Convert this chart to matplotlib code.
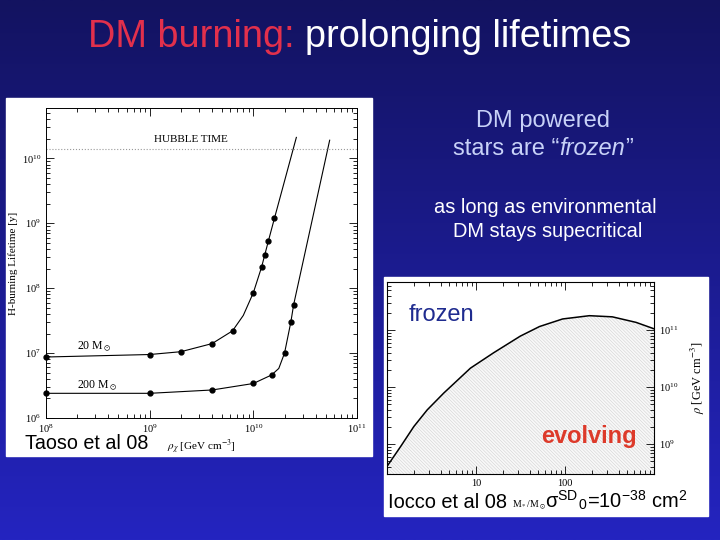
import numpy as np
import matplotlib.pyplot as plt
from matplotlib.colors import LinearSegmentedColormap
from matplotlib.patches import Rectangle

plt.rcParams['font.family'] = ['Liberation Sans', 'DejaVu Sans']
plt.rcParams['mathtext.fontset'] = 'stix'
plt.rcParams['hatch.linewidth'] = 0.4

# --- left plot (Taoso et al 08): H-burning lifetime vs DM density ---
rho_20 = [1e8, 1e9, 2e9, 4e9, 6.3e9, 1e10, 1.2e10, 1.3e10, 1.4e10, 1.6e10]
life_20 = [8.7e6, 9.5e6, 1.05e7, 1.4e7, 2.2e7, 8.5e7, 2.1e8, 3.2e8, 5.4e8, 1.2e9]
rho_200 = [1e8, 1e9, 4e9, 1e10, 1.5e10, 2e10, 2.3e10, 2.45e10]
life_200 = [2.4e6, 2.4e6, 2.7e6, 3.4e6, 4.6e6, 1e7, 3e7, 5.6e7]
# traced fit curves
curve20_x = [1e8, 1e9, 2e9, 4e9, 6.3e9, 8e9, 1e10, 1.2e10, 1.4e10, 1.6e10, 2.6e10]
curve20_y = [8.7e6, 9.5e6, 1.05e7, 1.4e7, 2.2e7, 3.8e7, 8.5e7, 2.1e8, 5.4e8, 1.2e9, 2.1e10]
curve200_x = [1e8, 1e9, 4e9, 1e10, 1.5e10, 1.76e10, 2e10, 2.3e10, 2.45e10, 5.45e10]
curve200_y = [2.4e6, 2.4e6, 2.7e6, 3.4e6, 4.6e6, 5.8e6, 1e7, 3e7, 5.6e7, 1.9e10]
hubble_time = 1.4e10

# --- right plot (Iocco et al 08): critical density vs stellar mass ---
mass = [1, 1.42, 2.0, 2.83, 4.35, 8.66, 15.8, 31.4, 51.7, 94, 188, 340, 628, 1000]
rho_crit = [4.1e8, 9.1e8, 2.04e9, 4.0e9, 7.9e9, 2.15e10, 4.0e10, 7.8e10,
            1.15e11, 1.56e11, 1.78e11, 1.7e11, 1.36e11, 1.05e11]

W, H = 720, 540
fig = plt.figure(figsize=(7.2, 5.4), dpi=100)


def fx(px):
    return px / W


def fy(py):
    return 1 - py / H


# slide background gradient
bg = fig.add_axes([0, 0, 1, 1])
grad = np.linspace(0, 1, 256).reshape(-1, 1)
cmap = LinearSegmentedColormap.from_list('slide', ['#131360', '#2424c0'])
bg.imshow(grad, aspect='auto', cmap=cmap, extent=[0, 1, 0, 1], origin='upper')
bg.set_xlim(0, 1)
bg.set_ylim(0, 1)
bg.axis('off')

# white panels behind the two pasted figures
bg.add_patch(Rectangle((fx(6), fy(456)), 366 / W, 358 / H, color='white'))
bg.add_patch(Rectangle((fx(384), fy(516)), 324 / W, 239 / H, color='white'))

serif = 'Liberation Serif'

# left plot
ax1 = fig.add_axes([fx(46), fy(418), 311 / W, 310 / H])
ax1.set_xscale('log')
ax1.set_yscale('log')
ax1.plot(curve20_x, curve20_y, 'k-', lw=0.8)
ax1.plot(curve200_x, curve200_y, 'k-', lw=0.8)
ax1.plot(rho_20, life_20, 'ko', ms=3.5, clip_on=False)
ax1.plot(rho_200, life_200, 'ko', ms=3.5, clip_on=False)
ax1.axhline(hubble_time, color='#999999', ls=':', lw=0.8)
ax1.set_xlim(1e8, 1e11)
ax1.set_ylim(1e6, 10**10.775)
ax1.text(10**9.40, 10**10.29, 'HUBBLE TIME', ha='center', va='center',
         family=serif, fontsize=8)
ax1.text(10**8.30, 10**7.09, r'20 M$_\odot$', ha='left', va='center',
         family=serif, fontsize=8.5)
ax1.text(10**8.30, 10**6.50, r'200 M$_\odot$', ha='left', va='center',
         family=serif, fontsize=8.5)
ax1.tick_params(which='both', direction='in', top=True, right=True,
                labelsize=7.5, labelfontfamily=serif, width=0.6)
ax1.tick_params(which='major', length=6)
ax1.tick_params(which='minor', length=3)
ax1.set_ylabel('H-burning Lifetime [y]', family=serif, fontsize=8, labelpad=3)
ax1.set_xlabel(r'$\rho_\chi$ [GeV cm$^{-3}$]', family=serif, fontsize=8, labelpad=2)
for s in ax1.spines.values():
    s.set_linewidth(0.7)

# right plot
ax2 = fig.add_axes([fx(387), fy(474), 267 / W, 192 / H])
ax2.set_xscale('log')
ax2.set_yscale('log')
ax2.fill_between(mass, 1e8, rho_crit, facecolor='#f8f8f8', edgecolor='#d2d2d2',
                 hatch='\\' * 10, lw=0)
ax2.plot(mass, rho_crit, 'k-', lw=1.1)
ax2.set_xlim(1, 1000)
ax2.set_ylim(10**8.48, 10**11.84)
ax2.set_xticks([1, 10, 100, 1000], ['', '10', '100', ''])
ax2.tick_params(which='both', direction='in', top=True, right=True,
                labelleft=False, labelright=True, labelsize=7.5,
                labelfontfamily=serif, width=0.6)
ax2.tick_params(which='major', length=6)
ax2.tick_params(which='minor', length=3)
ax2.yaxis.set_label_position('right')
ax2.set_ylabel(r'$\rho$ [GeV cm$^{-3}$]', family=serif, fontsize=9, labelpad=8)
ax2.set_xlabel(r'M$_*$/M$_\odot$', family=serif, fontsize=7)
ax2.xaxis.set_label_coords(0.53, -0.13)
for s in ax2.spines.values():
    s.set_linewidth(0.8)

# labels on the pasted figures
fig.text(fx(409), fy(321), 'frozen', color='#1f2b8f', fontsize=17, va='baseline')
fig.text(fx(541), fy(443), 'evolving', color='#dd3a2a', fontsize=17,
         weight='bold', va='baseline')
fig.text(fx(25), fy(449), 'Taoso et al 08', color='black', fontsize=14.2, va='baseline')
fig.text(fx(388), fy(508), 'Iocco et al 08', color='black', fontsize=14.4, va='baseline')
fig.text(fx(545), fy(508),
         r'σ$^{\mathdefault{SD}}$$_{\mathdefault{0}}$=10$^{\mathdefault{-38}}$ cm$^{\mathdefault{2}}$',
         color='black', fontsize=14.4, va='baseline')

# slide text
fig.text(fx(88), fy(47), 'DM burning:', color='#e2304c', fontsize=27.3, va='baseline')
fig.text(fx(305), fy(47), 'prolonging lifetimes', color='white', fontsize=27.3,
         va='baseline')


def runs_centered(cx, base, runs, **kw):
    texts = [fig.text(0, fy(base), s, va='baseline', **kw, **st) for s, st in runs]
    r = fig.canvas.get_renderer()
    widths = [t.get_window_extent(r).width for t in texts]
    x = cx - sum(widths) / 2
    for t, w in zip(texts, widths):
        t.set_x(fx(x))
        x += w


blue_txt = '#c8d2f8'
fig.text(fx(543), fy(127), 'DM powered', color=blue_txt, fontsize=17,
         ha='center', va='baseline')
runs_centered(543, 155, [('stars are \u201c', {}), ('frozen', {'style': 'italic'}),
                         ('\u201d', {})], color=blue_txt, fontsize=17)
fig.text(fx(545), fy(213), 'as long as environmental', color='white', fontsize=14.4,
         ha='center', va='baseline')
fig.text(fx(548), fy(237), 'DM stays supecritical', color='white', fontsize=14.4,
         ha='center', va='baseline')

fig.savefig('out.png', dpi=100)
